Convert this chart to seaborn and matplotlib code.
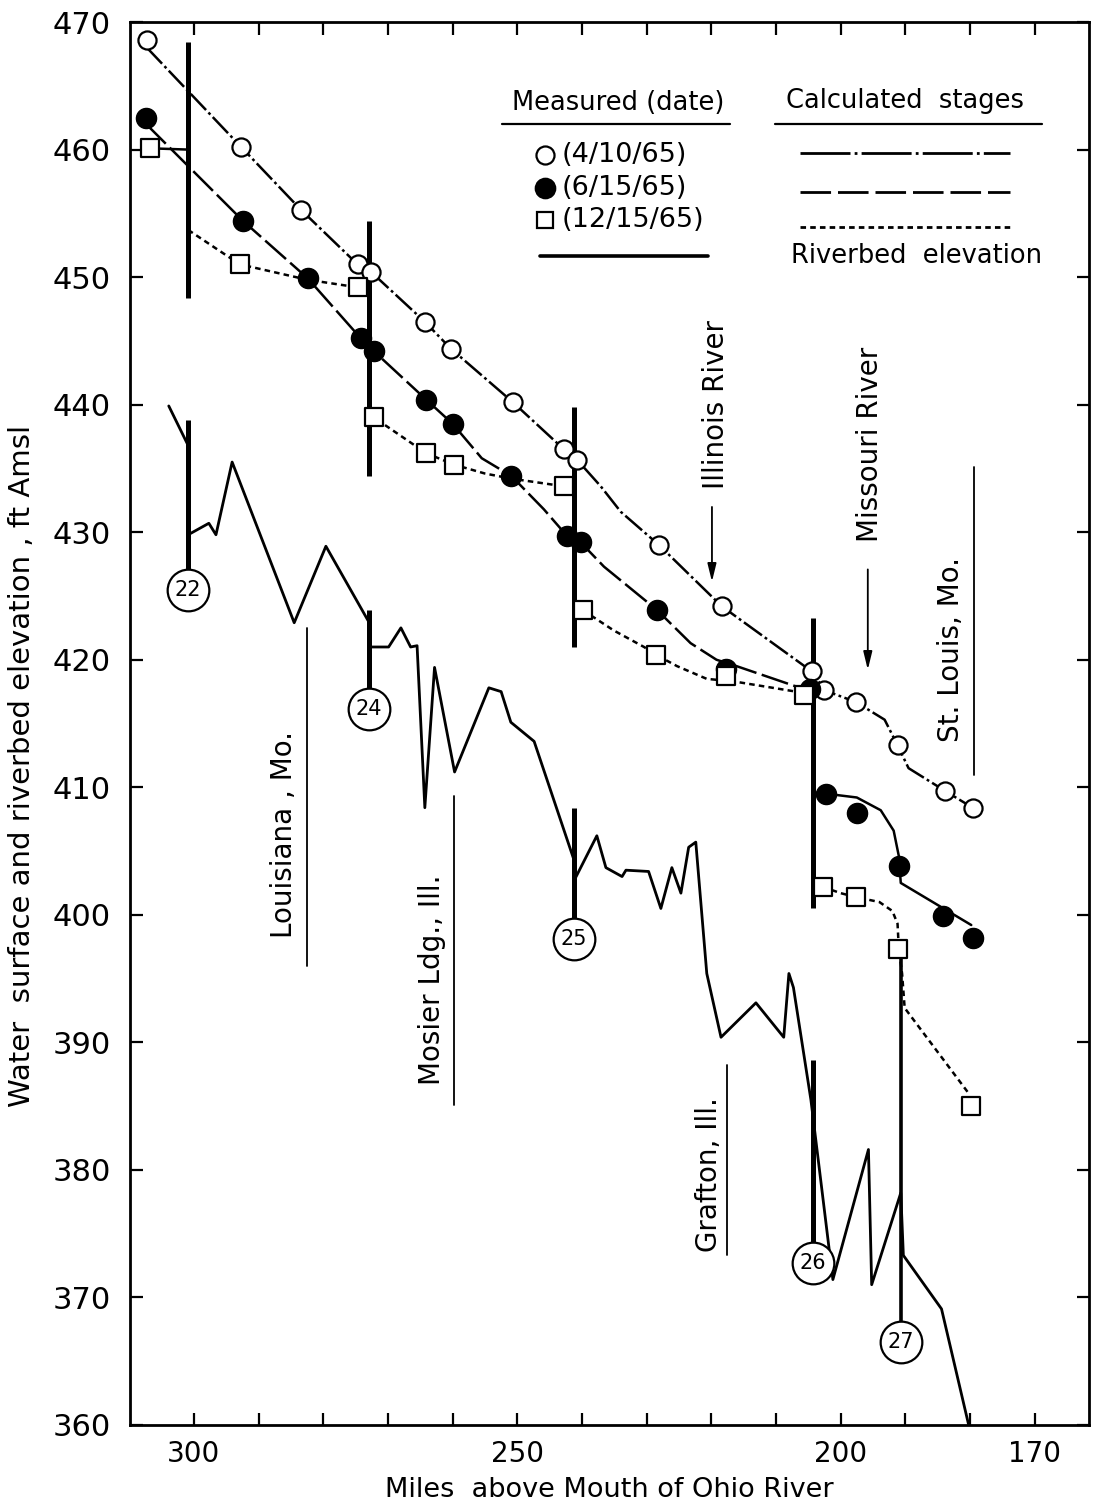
import numpy as np
import pandas as pd
import matplotlib
matplotlib.use("Agg")
import matplotlib.pyplot as plt
import seaborn as sns

# ---------------- data ----------------
# measured points: miles above mouth of Ohio River, elevation ft
m410_mile = [307.3, 292.7, 283.5, 274.7, 272.6, 264.3, 260.3, 250.7, 242.8, 240.8,
             228.1, 218.4, 204.5, 202.5, 197.7, 191.2, 183.8, 179.6]
m410_elev = [468.6, 460.2, 455.3, 451.0, 450.4, 446.5, 444.4, 440.2, 436.5, 435.7,
             429.0, 424.2, 419.1, 417.6, 416.7, 413.3, 409.7, 408.4]

m615_mile = [307.4, 292.4, 282.4, 274.2, 272.2, 264.1, 260.0, 250.9, 242.3, 240.2,
             228.4, 217.7, 204.8, 202.3, 197.5, 191.0, 184.1, 179.6]
m615_elev = [462.5, 454.4, 449.9, 445.2, 444.2, 440.4, 438.5, 434.4, 429.7, 429.2,
             423.9, 419.3, 417.7, 409.5, 408.0, 403.8, 399.9, 398.2]

m1215_mile = [306.8, 292.9, 274.7, 272.2, 264.1, 259.8, 242.8, 239.9, 228.6, 217.7,
              205.7, 202.8, 197.7, 191.2, 179.8]
m1215_elev = [460.1, 451.0, 449.2, 439.0, 436.2, 435.3, 433.6, 423.9, 420.4, 418.7,
              417.2, 402.2, 401.4, 397.3, 385.0]

# stage profiles (line vertices)
c410_mile = [307.3, 292.7, 283.5, 274.7, 272.6, 264.3, 260.3, 250.7, 242.8, 240.8, 237.1,
             234.0, 228.1, 218.4, 204.5, 202.5, 197.7, 193.2, 191.2, 189.5, 183.8, 179.6]
c410_elev = [468.0, 460.2, 455.3, 451.0, 450.4, 446.5, 444.4, 440.2, 436.5, 435.7, 433.6,
             431.6, 429.0, 424.2, 419.1, 417.6, 416.7, 415.3, 413.3, 411.5, 409.7, 408.4]

c615a_mile = [307.4, 292.4, 282.4, 274.2, 272.2, 264.1, 260.0, 255.5, 250.9, 245.9, 242.3,
              240.2, 236.6, 228.4, 223.2, 219.2, 216.1, 205.7, 204.3]
c615a_elev = [462.0, 454.4, 449.9, 445.2, 444.2, 440.4, 438.5, 435.8, 434.4, 431.8, 429.7,
              429.2, 427.3, 423.9, 421.3, 420.0, 419.5, 417.7, 417.6]
c615b_mile = [204.3, 202.3, 197.5, 193.8, 191.8, 191.0, 190.7, 179.8]
c615b_elev = [409.6, 409.5, 409.2, 408.2, 406.6, 404.6, 402.5, 399.2]

c1215a_mile = [306.8, 300.9]
c1215a_elev = [460.1, 460.0]
c1215b_mile = [300.9, 292.9, 282.5, 274.7, 273.0]
c1215b_elev = [453.7, 451.0, 449.8, 449.2, 449.2]
c1215c_mile = [273.0, 272.2, 264.1, 259.8, 255.0, 250.9, 242.8, 241.3]
c1215c_elev = [439.2, 439.0, 436.2, 435.3, 434.6, 434.2, 433.6, 433.4]
c1215d_mile = [241.3, 239.9, 235.1, 230.4, 228.6, 225.3, 220.7, 216.5, 205.7, 204.3]
c1215d_elev = [424.1, 423.9, 422.3, 421.0, 420.4, 419.5, 418.5, 418.3, 417.4, 417.3]
c1215e_mile = [204.3, 202.8, 200.0, 197.7, 194.0, 192.0, 191.2, 191.0, 190.5, 190.1, 180.2]
c1215e_elev = [402.2, 402.2, 401.7, 401.4, 401.0, 400.3, 399.3, 397.3, 395.4, 392.7, 386.0]

# riverbed elevation profile
bed_mile = [303.9, 300.9, 300.9, 297.7, 296.6, 294.1, 284.5, 279.6, 273.0, 273.0, 269.9,
            268.0, 266.5, 265.5, 264.3, 262.8, 259.7, 254.4, 252.5, 251.0, 247.4, 241.3,
            241.0, 237.7, 236.3, 233.8, 233.2, 229.7, 227.8, 226.1, 224.7, 223.5, 222.4,
            220.7, 218.5, 213.1, 208.8, 208.0, 207.3, 204.6, 201.2, 195.7, 195.2, 190.7,
            190.3, 184.4, 180.2]
bed_elev = [439.9, 436.8, 429.8, 430.7, 429.8, 435.5, 422.9, 428.9, 423.0, 421.0, 421.0,
            422.5, 421.0, 421.1, 408.4, 419.4, 411.2, 417.8, 417.5, 415.1, 413.6, 404.4,
            402.9, 406.2, 403.7, 403.0, 403.5, 403.4, 400.5, 403.7, 401.7, 405.3, 405.7,
            395.4, 390.4, 393.1, 390.4, 395.4, 394.3, 385.5, 371.4, 381.6, 371.0, 378.2,
            373.3, 369.1, 360.0]

# locks and dams
lock_names = ["22", "24", "25", "26"]
lock_mile = [300.9, 273.0, 241.3, 204.3]
lock_pool_top = [468.4, 454.4, 439.8, 423.3]
lock_pool_bot = [448.4, 434.4, 421.0, 400.5]
lock_bed_top = [438.8, 423.9, 408.4, 388.6]
lock_circle = [425.5, 416.1, 398.1, 372.7]
lock27_mile = 190.7
lock27_top, lock27_circle = 397.2, 366.5

# place annotations
place_names = ["Louisiana , Mo.", "Mosier Ldg., Ill.", "Grafton, Ill.", "St. Louis, Mo."]
place_text_mile = [286.1, 263.2, 220.4, 183.0]
place_text_elev = [406.3, 394.9, 379.6, 420.8]
place_line_mile = [282.5, 259.8, 217.5, 179.4]
place_line_top = [422.5, 409.3, 388.2, 435.1]
place_line_bot = [396.0, 385.1, 373.3, 411.0]

river_names = ["Illinois River", "Missouri River"]
river_text_mile = [219.3, 195.5]
river_text_elev = [440.0, 436.9]
river_arrow_mile = [219.9, 195.8]
river_arrow_top = [432.2, 427.3]
river_arrow_bot = [425.9, 419.0]

xticks_major = [300, 250, 200, 170]
xticks_minor = [290, 280, 270, 260, 240, 230, 220, 210, 190, 180]
yticks = list(range(360, 471, 10))

# ---------------- styling ----------------
sns.set_theme(style="white")
plt.rcParams['font.family'] = ['DejaVu Sans']
plt.rcParams['lines.scale_dashes'] = False
for k in ["text.color", "axes.labelcolor", "xtick.color", "ytick.color"]:
    plt.rcParams[k] = "black"

DASHDOT = (0, (16, 2.5, 2, 2.5))
LONGDASH = (0, (20, 4))
SHORTDASH = (0, (4, 3))
LW = 1.8

fig = plt.figure(figsize=(10.93, 15.10), dpi=100)
ax = fig.add_axes([0.1189, 0.0563, 0.8774, 0.9291])
ax.set_xlim(309.9, 161.6)
ax.set_ylim(360, 470)


def line(xs, ys, ls, lw=LW, z=2):
    df = pd.DataFrame({"x": xs, "y": ys})
    sns.lineplot(data=df, x="x", y="y", ax=ax, sort=False, estimator=None,
                 color="black", linewidth=lw, linestyle=ls, zorder=z)


# stage profiles
line(c410_mile, c410_elev, DASHDOT)
line(c615a_mile, c615a_elev, LONGDASH)
line(c615b_mile, c615b_elev, "-")
line(c1215a_mile, c1215a_elev, "-")
line(c1215b_mile, c1215b_elev, SHORTDASH)
line(c1215c_mile, c1215c_elev, SHORTDASH)
line(c1215d_mile, c1215d_elev, SHORTDASH)
line(c1215e_mile, c1215e_elev, SHORTDASH)

# riverbed
line(bed_mile, bed_elev, "-", lw=2.0)

# locks
ax.vlines(lock_mile, lock_pool_bot, lock_pool_top, color="black", lw=3.6, zorder=3)
ax.vlines(lock_mile, lock_circle, lock_bed_top, color="black", lw=3.6, zorder=3)
ax.vlines([lock27_mile], [lock27_circle], [lock27_top], color="black", lw=2.6, zorder=3)
for name, m, e in zip(lock_names + ["27"], lock_mile + [lock27_mile],
                      lock_circle + [lock27_circle]):
    ax.plot([m], [e], marker="o", ms=30, mfc="white", mec="black", mew=1.6, zorder=5)
    ax.text(m, e, name, ha="center", va="center", fontsize=15, zorder=6)

# markers
sns.scatterplot(x=m410_mile, y=m410_elev, ax=ax, marker="o", s=170,
                color="white", edgecolor="black", linewidth=1.6, zorder=4)
sns.scatterplot(x=m615_mile, y=m615_elev, ax=ax, marker="o", s=210,
                color="black", edgecolor="black", linewidth=1.0, zorder=4)
sns.scatterplot(x=m1215_mile, y=m1215_elev, ax=ax, marker="s", s=170,
                color="white", edgecolor="black", linewidth=1.6, zorder=4)

# place labels
for name, tm, te, lm, lt, lb in zip(place_names, place_text_mile, place_text_elev,
                                    place_line_mile, place_line_top, place_line_bot):
    ax.text(tm, te, name, rotation=90, ha="center", va="center", fontsize=20)
    ax.plot([lm, lm], [lb, lt], color="black", lw=1.3)

for name, tm, te, am, at, ab in zip(river_names, river_text_mile, river_text_elev,
                                    river_arrow_mile, river_arrow_top, river_arrow_bot):
    ax.text(tm, te, name, rotation=90, ha="center", va="center", fontsize=20)
    ax.annotate("", xy=(am, ab), xytext=(am, at),
                arrowprops=dict(arrowstyle="-|>,head_length=0.9,head_width=0.22",
                                color="black", lw=1.3))

# legend, drawn by hand
T = ax.transAxes
ax.text(0.509, 0.942, "Measured (date)", transform=T, ha="center", va="center", fontsize=18.5)
ax.plot([0.388, 0.626], [0.927, 0.927], transform=T, color="black", lw=1.6)
ax.text(0.808, 0.944, "Calculated  stages", transform=T, ha="center", va="center",
        fontsize=18.5)
ax.plot([0.6726, 0.951], [0.927, 0.927], transform=T, color="black", lw=1.6)
legend_y = [0.905, 0.882, 0.859]
legend_lbl = ["(4/10/65)", "(6/15/65)", "(12/15/65)"]
legend_mk = [("o", "white", 13), ("o", "black", 14), ("s", "white", 12)]
for y, lbl, (mk, fc, ms) in zip(legend_y, legend_lbl, legend_mk):
    ax.plot([0.433], [y], transform=T, marker=mk, ms=ms, mfc=fc, mec="black", mew=1.6,
            ls="none")
    ax.text(0.450, y, lbl, transform=T, ha="left", va="center", fontsize=19.5)
ax.plot([0.4275, 0.603], [0.833, 0.833], transform=T, color="black", lw=2.6)
for y, ls in zip([0.907, 0.879, 0.854], [(0, (36, 3, 2, 3)), (0, (22, 5)), SHORTDASH]):
    ax.plot([0.699, 0.918], [y, y], transform=T, color="black", lw=2.0, ls=ls)
ax.text(0.820, 0.833, "Riverbed  elevation", transform=T, ha="center", va="center",
        fontsize=18.5)

# axes
ax.set_xticks(xticks_major)
ax.set_xticklabels([str(t) for t in xticks_major])
ax.set_xticks(xticks_minor, minor=True)
ax.set_yticks(yticks)
ax.set_yticklabels([str(t) for t in yticks])
ax.tick_params(axis="both", which="both", direction="in", length=9, width=1.6,
               top=True, right=True, bottom=True, left=True, color="black")
ax.tick_params(axis="x", which="major", labelsize=20, pad=11)
ax.tick_params(axis="y", which="major", labelsize=22, pad=14)
for s in ax.spines.values():
    s.set_color("black")
    s.set_linewidth(2.0)

ax.set_xlabel("Miles  above Mouth of Ohio River", fontsize=19.5)
ax.xaxis.set_label_coords(0.5, -0.037)
ax.set_ylabel("Water  surface and riverbed elevation , ft Amsl", fontsize=21)
ax.yaxis.set_label_coords(-0.098, 0.47)

fig.savefig("out.png", dpi=100, facecolor="white")
